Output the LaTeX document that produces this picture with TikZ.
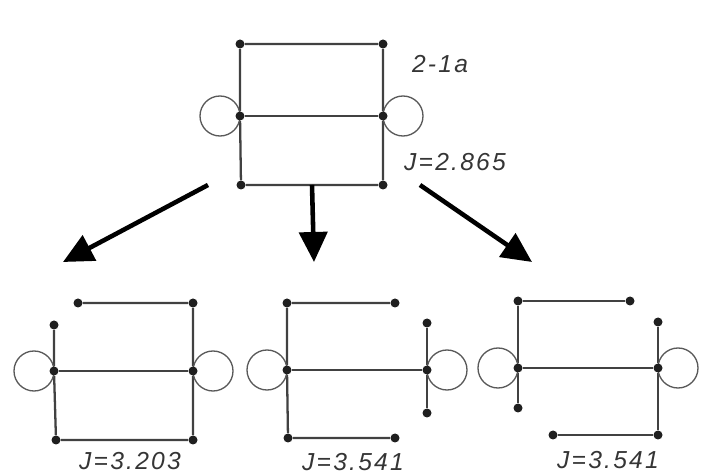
\documentclass[tikz,border=0pt]{standalone}
\usepackage{fontspec}
\usepackage{tikz}
\usetikzlibrary{arrows.meta,positioning,backgrounds,calc}
\newfontfamily\lblfont[LetterSpace=9]{Liberation Sans}
\definecolor{ink}{HTML}{1F1F1F}
\tikzset{
  dot/.style={circle,fill=ink,inner sep=0pt,minimum size=1.8mm},
  bond/.style={draw=ink!85,line width=1.3pt},
  ring/.style={draw=black!65,line width=0.75pt},
  bigarr/.style={-{Triangle[length=6mm,width=5.6mm]},line width=2.6pt,draw=black},
  jlbl/.style={font=\lblfont\itshape\fontsize{14}{16}\selectfont,text=ink!90,inner sep=0pt},
}

\begin{document}
\begin{tikzpicture}[x=0.2mm,y=-0.2mm]
  \useasboundingbox (0,0) rectangle (701,476);
  % parent graph 2-1a
  \node[dot] (a1) at (240,44)  {};
  \node[dot] (a2) at (383,44)  {};
  \node[dot] (a3) at (240,116) {};
  \node[dot] (a4) at (383,116) {};
  \node[dot] (a5) at (241,185) {};
  \node[dot] (a6) at (383,185) {};
  \node[jlbl] (name) at (440,64)  {2-1a};
  \node[jlbl] (ja)   at (455,162) {J=2.865};
  % child graphs
  \node[dot] (b1) at (78,303)  {};
  \node[dot] (b2) at (193,303) {};
  \node[dot] (b3) at (54,325)  {};
  \node[dot] (b4) at (54,371)  {};
  \node[dot] (b5) at (193,371) {};
  \node[dot] (b6) at (56,440)  {};
  \node[dot] (b7) at (193,440) {};
  \node[jlbl] (jb) at (130,461) {J=3.203};
  \node[dot] (c1) at (287,303) {};
  \node[dot] (c2) at (395,303) {};
  \node[dot] (c3) at (427,323) {};
  \node[dot] (c4) at (287,370) {};
  \node[dot] (c5) at (427,370) {};
  \node[dot] (c6) at (427,413) {};
  \node[dot] (c7) at (288,438) {};
  \node[dot] (c8) at (395,438) {};
  \node[jlbl] (jc) at (353,462) {J=3.541};
  \node[dot] (d1) at (518,301) {};
  \node[dot] (d2) at (630,301) {};
  \node[dot] (d3) at (658,322) {};
  \node[dot] (d4) at (518,368) {};
  \node[dot] (d5) at (658,368) {};
  \node[dot] (d6) at (518,408) {};
  \node[dot] (d7) at (553,435) {};
  \node[dot] (d8) at (658,435) {};
  \node[jlbl] (jd) at (608,460) {J=3.541};
  \begin{scope}[on background layer]
    \draw[bond] (a1) -- (a2) -- (a4) -- (a6) -- (a5) -- (a3) -- (a1);
    \draw[bond] (a3) -- (a4);
    \draw[bond] (b1) -- (b2) -- (b5) -- (b7) -- (b6) -- (b4) -- (b3);
    \draw[bond] (b4) -- (b5);
    \draw[bond] (c2) -- (c1) -- (c4) -- (c7) -- (c8);
    \draw[bond] (c4) -- (c5);
    \draw[bond] (c3) -- (c5) -- (c6);
    \draw[bond] (d2) -- (d1) -- (d4) -- (d6);
    \draw[bond] (d4) -- (d5);
    \draw[bond] (d3) -- (d5) -- (d8) -- (d7);
    \foreach \l/\r in {a3/a4,b4/b5,c4/c5,d4/d5}{
      \draw[ring] (\l) ++(-20,0) circle (20);
      \draw[ring] (\r) ++(20,0) circle (20);
    }
  \end{scope}
  % arrows to the children
  \coordinate (sl) at (208,185);
  \coordinate (sr) at (420,185);
  \coordinate (el) at (63,262);
  \coordinate (em) at (314,262);
  \coordinate (er) at (532,262);
  \draw[bigarr] (sl) -- (el);
  \draw[bigarr] ($(a5)!0.5!(a6)$) -- (em);
  \draw[bigarr] (sr) -- (er);
\end{tikzpicture}
\end{document}
